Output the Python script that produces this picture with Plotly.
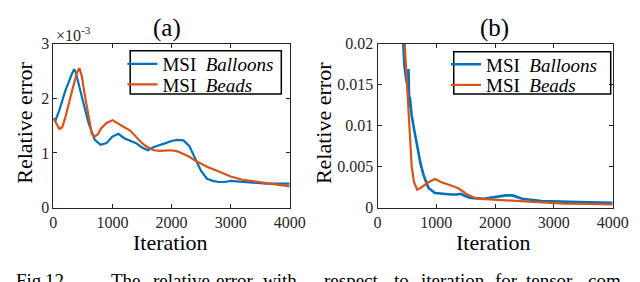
import plotly.graph_objects as go

# ---------------- data ----------------
# (a) left panel (values in absolute units, axis labelled x1e-3)
a_balloons_x = [0, 30, 100, 200, 300, 350, 380, 430, 500, 600, 700, 800, 900, 1000, 1100, 1200,
                1300, 1400, 1500, 1600, 1700, 1800, 1900, 2000, 2100, 2200, 2300, 2400, 2500,
                2600, 2700, 2800, 2900, 3000, 3200, 3400, 3600, 3800, 4000]
a_balloons_y = [1.64, 1.58, 1.78, 2.13, 2.41, 2.53, 2.47, 2.27, 1.95, 1.53, 1.24, 1.15, 1.18, 1.30,
                1.35, 1.27, 1.22, 1.18, 1.10, 1.05, 1.11, 1.14, 1.18, 1.22, 1.24, 1.23, 1.13, 0.90,
                0.67, 0.53, 0.49, 0.47, 0.47, 0.49, 0.47, 0.45, 0.44, 0.44, 0.44]
a_beads_x = [0, 50, 100, 150, 200, 300, 400, 440, 480, 530, 600, 650, 700, 760, 800, 900, 1000,
             1100, 1200, 1300, 1400, 1500, 1600, 1700, 1800, 2000, 2100, 2200, 2300, 2400, 2600,
             2800, 3000, 3200, 3400, 3600, 3800, 4000]
a_beads_y = [1.64, 1.53, 1.44, 1.47, 1.64, 2.07, 2.47, 2.55, 2.41, 2.07, 1.61, 1.35, 1.30, 1.35,
             1.44, 1.55, 1.60, 1.53, 1.47, 1.41, 1.30, 1.18, 1.10, 1.05, 1.04, 1.05, 1.03, 0.98,
             0.93, 0.86, 0.75, 0.66, 0.57, 0.51, 0.48, 0.45, 0.42, 0.39]
a_balloons_y = [v * 1e-3 for v in a_balloons_y]
a_beads_y = [v * 1e-3 for v in a_beads_y]

# (b) right panel
b_balloons_x = [420, 440, 456, 490, 510, 520, 527, 535, 542, 550, 560, 580, 621, 676, 731, 786,
                868, 978, 1100, 1253, 1350, 1418, 1500, 1582, 1802, 2022, 2187, 2297, 2462, 2791,
                3176, 3600, 4000]
b_balloons_y = [0.0230, 0.0200, 0.0174, 0.0155, 0.0150, 0.0162, 0.0169, 0.0140, 0.0122, 0.0135,
                0.0125, 0.0113, 0.0096, 0.0073, 0.0054, 0.0039, 0.0024, 0.0018, 0.0017, 0.0016,
                0.0016, 0.0017, 0.0014, 0.0012, 0.0011, 0.0013, 0.0015, 0.0015, 0.0011, 0.0008,
                0.0007, 0.00065, 0.0006]
b_beads_x = [430, 462, 495, 527, 549, 582, 621, 676, 731, 800, 868, 978, 1088, 1253, 1363, 1450,
             1527, 1692, 1912, 2242, 2626, 3176, 3600, 4000]
b_beads_y = [0.0240, 0.0200, 0.0157, 0.0119, 0.0081, 0.0050, 0.0031, 0.0022, 0.0024, 0.0028,
             0.0031, 0.0035, 0.0031, 0.0027, 0.0024, 0.0020, 0.0016, 0.0011, 0.0010, 0.0009,
             0.0007, 0.0005, 0.00045, 0.0004]

x_ticks = [0, 1000, 2000, 3000, 4000]
a_y_ticks = [0, 0.001, 0.002, 0.003]
a_y_ticktext = ["0", "1", "2", "3"]
b_y_ticks = [0, 0.005, 0.01, 0.015, 0.02]
b_y_ticktext = ["0", "0.005", "0.01", "0.015", "0.02"]

series_names = ["MSI  <i>Balloons</i>", "MSI  <i>Beads</i>"]
caption_words = ["Fig.", "12.", "The", "relative", "error", "with", "respect", "to",
                 "iteration", "for", "tensor", "com"]

# ---------------- figure ----------------
W, H = 640, 282
BLUE = "#0072BD"
ORANGE = "#D95319"
FONT = "Liberation Serif"
AX = "#262626"

def px(x):
    return x / W

def py(y):
    return (H - y) / H

fig = go.Figure()
fig.add_trace(go.Scatter(x=a_balloons_x, y=a_balloons_y, mode="lines", name=series_names[0],
                         line=dict(color=BLUE, width=2.2), xaxis="x", yaxis="y", legend="legend"))
fig.add_trace(go.Scatter(x=a_beads_x, y=a_beads_y, mode="lines", name=series_names[1],
                         line=dict(color=ORANGE, width=2.2), xaxis="x", yaxis="y", legend="legend2"))
fig.add_trace(go.Scatter(x=b_balloons_x, y=b_balloons_y, mode="lines", name=series_names[0],
                         line=dict(color=BLUE, width=2.6), xaxis="x2", yaxis="y2", legend="legend3"))
fig.add_trace(go.Scatter(x=b_beads_x, y=b_beads_y, mode="lines", name=series_names[1],
                         line=dict(color=ORANGE, width=2.2), xaxis="x2", yaxis="y2", legend="legend4"))

axis_common = dict(showline=True, linecolor=AX, linewidth=1, mirror="ticks", ticks="inside",
                   ticklen=4, tickcolor=AX, showgrid=False, zeroline=False,
                   tickfont=dict(family=FONT, size=16, color=AX))

def leg(x_left, y_mid):
    return dict(x=px(x_left), y=py(y_mid), xanchor="left", yanchor="middle",
                bgcolor="rgba(0,0,0,0)", borderwidth=0, itemwidth=30,
                font=dict(family=FONT, size=19, color="black"))

ydom = [py(204), py(29.3)]
fig.update_layout(
    width=W, height=H, margin=dict(l=0, r=0, t=0, b=0),
    paper_bgcolor="white", plot_bgcolor="white",
    font=dict(family=FONT),
    xaxis=dict(domain=[px(42.7), px(286.7)], range=[0, 4000], tickvals=x_ticks, anchor="y",
               **axis_common),
    yaxis=dict(domain=ydom, range=[0, 0.003], tickvals=a_y_ticks, ticktext=a_y_ticktext,
               anchor="x", **axis_common),
    xaxis2=dict(domain=[px(377.3), px(620)], range=[0, 4000], tickvals=x_ticks, anchor="y2",
                **axis_common),
    yaxis2=dict(domain=ydom, range=[0, 0.02], tickvals=b_y_ticks, ticktext=b_y_ticktext,
                anchor="x2", **axis_common),
    legend=leg(114, 51),
    legend2=leg(114, 73),
    legend3=leg(448, 51.5),
    legend4=leg(448, 73.5),
    showlegend=True,
)

# legend frames (thin border boxes)
frames = [(122, 37, 278, 83), (456, 38, 618, 83)]
shapes = []
for x0, y0, x1, y1 in frames:
    shapes.append(dict(type="rect", xref="paper", yref="paper", x0=px(x0), x1=px(x1),
                       y0=py(y1), y1=py(y0), layer="above",
                       line=dict(color="black", width=1.5)))

ann = []
def add_text(text, x, y, size, xanchor="center", yanchor="middle", angle=0, color="black"):
    ann.append(dict(text=text, x=px(x), y=py(y), xref="paper", yref="paper", showarrow=False,
                    xanchor=xanchor, yanchor=yanchor, textangle=angle,
                    font=dict(family=FONT, size=size, color=color)))

add_text("(a)", 160, 13, 25)
add_text("(b)", 498, 13, 25)
add_text("×10<sup>-3</sup>", 43, 19, 16, xanchor="left", color=AX)
add_text("Relative error", 13, 114, 22, angle=-90)
add_text("Relative error", 321, 114, 22, angle=-90)
add_text("Iteration", 164, 241, 22)
add_text("Iteration", 497.5, 241, 22)

caption_x = [2, 32, 100, 143, 208, 257, 320, 392, 420, 497, 528, 593]
for w, xx in zip(caption_words, caption_x):
    add_text(w, xx, 281, 19, xanchor="left")

fig.update_layout(annotations=ann, shapes=shapes)
fig.write_html("out.html")
